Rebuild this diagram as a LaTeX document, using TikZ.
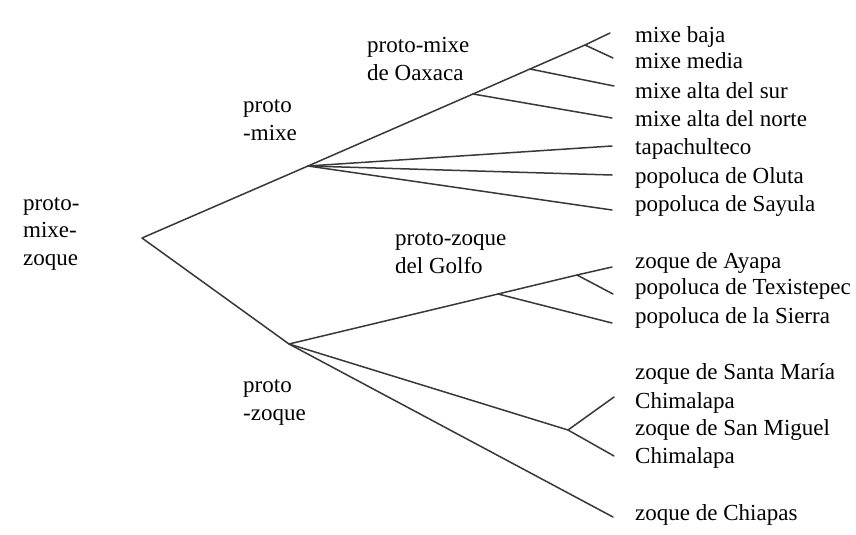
\documentclass[tikz,border=0pt]{standalone}
\usepackage{fontspec}
\setmainfont{Liberation Serif}
\begin{document}
\begin{tikzpicture}[x=1pt,y=-1pt,
  branch/.style={draw=black!78, line width=1.5pt, line cap=round, line join=round},
  lbl/.style={anchor=base west, inner sep=0pt, font=\fontsize{23}{27.5}\selectfont, text=black},
  grp/.style={anchor=base west, inner sep=0pt, align=left, font=\fontsize{23}{27.5}\selectfont, text=black}]
\fill[white] (0,0) rectangle (856,535);
\useasboundingbox (0,0) rectangle (856,535);

% internal points
\coordinate (root) at (142,238);
\coordinate (pm) at (308,166);
\coordinate (pz) at (289,344);
\coordinate (oax) at (473,94);
\coordinate (b2) at (530,69);
\coordinate (b3) at (585,45);
\coordinate (golf) at (498,294);
\coordinate (g2) at (577,275);
\coordinate (chim) at (568,430);

% leaf ends
\coordinate (emb) at (610,33);
\coordinate (emm) at (613,58);
\coordinate (ems) at (614,86);
\coordinate (emn) at (612,118);
\coordinate (etp) at (612,146);
\coordinate (eol) at (612,175);
\coordinate (esy) at (612,210);
\coordinate (eay) at (612,267);
\coordinate (etx) at (613,294);
\coordinate (esi) at (612,323);
\coordinate (esm) at (614,397);
\coordinate (esn) at (614,456);
\coordinate (ech) at (613,517);

% group labels (base = last line)
\node[grp] (lpmz) at (23,265) {proto-\\mixe-\\zoque};
\node[grp] (lpm) at (243,140) {proto\\-mixe};
\node[grp] (loax) at (367,80) {proto-mixe\\de Oaxaca};
\node[grp] (lgolf) at (395,273) {proto-zoque\\del Golfo};
\node[grp] (lpz) at (243,420) {proto\\-zoque};

% leaf labels
\node[lbl] (mb) at (635,43) {mixe baja};
\node[lbl] (mm) at (635,69) {mixe media};
\node[lbl] (ms) at (635,98) {mixe alta del sur};
\node[lbl] (mn) at (635,126) {mixe alta del norte};
\node[lbl] (tp) at (635,154) {tapachulteco};
\node[lbl] (ol) at (635,183) {popoluca de Oluta};
\node[lbl] (sy) at (635,211) {popoluca de Sayula};
\node[lbl] (ay) at (635,268) {zoque de Ayapa};
\node[lbl] (tx) at (635,294) {popoluca de Texistepec};
\node[lbl] (si) at (635,323) {popoluca de la Sierra};
\node[lbl] (sm) at (635,379) {zoque de Santa María};
\node[lbl] (sm2) at (635,408) {Chimalapa};
\node[lbl] (sn) at (635,435) {zoque de San Miguel};
\node[lbl] (sn2) at (635,463) {Chimalapa};
\node[lbl] (ch) at (635,520) {zoque de Chiapas};

% branches
\draw[branch] (pm) -- (root) -- (pz);
\draw[branch] (pm) -- (oax) -- (b2) -- (b3) -- (emb);
\draw[branch] (b3) -- (emm);
\draw[branch] (b2) -- (ems);
\draw[branch] (oax) -- (emn);
\draw[branch] (pm) -- (etp);
\draw[branch] (pm) -- (eol);
\draw[branch] (pm) -- (esy);
\draw[branch] (pz) -- (golf) -- (g2) -- (eay);
\draw[branch] (g2) -- (etx);
\draw[branch] (golf) -- (esi);
\draw[branch] (pz) -- (chim) -- (esm);
\draw[branch] (chim) -- (esn);
\draw[branch] (pz) -- (ech);
\end{tikzpicture}
\end{document}
